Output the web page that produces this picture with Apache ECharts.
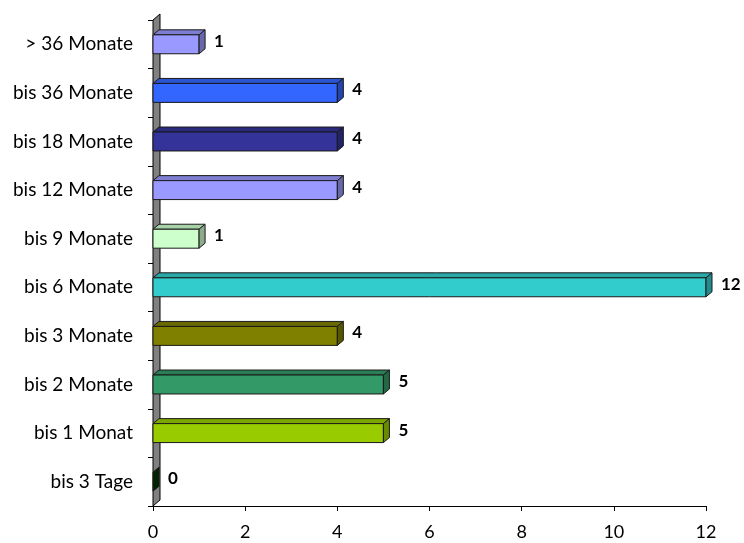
<!DOCTYPE html>
<html>
<head>
<meta charset="utf-8">
<script src="https://cdn.jsdelivr.net/npm/echarts@6/dist/echarts.min.js"></script>
<style>
  html, body { margin: 0; padding: 0; background: #fff; }
  #chart { width: 744px; height: 543px; }
</style>
</head>
<body>
<div id="chart"></div>
<script>
// Duration categories, listed from top to bottom
const categories = [
  '> 36 Monate', 'bis 36 Monate', 'bis 18 Monate', 'bis 12 Monate', 'bis 9 Monate',
  'bis 6 Monate', 'bis 3 Monate', 'bis 2 Monate', 'bis 1 Monat', 'bis 3 Tage'
];
const counts = [1, 4, 4, 4, 1, 12, 4, 5, 5, 0];
const barColors = [
  '#9999FF', '#3366FF', '#333399', '#9999FF', '#CCFFCC',
  '#33CCCC', '#808000', '#339966', '#99CC00', '#003300'
];
const xTicks = { min: 0, max: 12, interval: 2 };

const FONT = 'Lato, "Open Sans", sans-serif';
const DEPTH_X = 6, DEPTH_Y = -5;   // pseudo-3D extrusion
const BAR_FRACTION = 0.39;         // front-face height relative to band

function shade(hex, f) {
  const n = parseInt(hex.slice(1), 16);
  const r = Math.round(((n >> 16) & 255) * f);
  const g = Math.round(((n >> 8) & 255) * f);
  const b = Math.round((n & 255) * f);
  return 'rgb(' + r + ',' + g + ',' + b + ')';
}

function renderBox(params, api) {
  const val = api.value(0);
  const idx = api.value(1);
  const color = barColors[idx];
  const p0 = api.coord([0, idx]);
  const p1 = api.coord([val, idx]);
  const band = api.size([0, 1])[1];
  const h = band * BAR_FRACTION;
  const x0 = p0[0], x1 = p1[0], yc = p0[1];
  const yt = yc - h / 2, yb = yc + h / 2;
  const edge = { stroke: '#1a1a1a', lineWidth: 1 };
  const children = [];
  if (x1 > x0) {
    children.push({
      type: 'polygon',
      shape: { points: [[x0, yt], [x1, yt], [x1 + DEPTH_X, yt + DEPTH_Y], [x0 + DEPTH_X, yt + DEPTH_Y]] },
      style: Object.assign({ fill: shade(color, 0.82) }, edge)
    });
    children.push({
      type: 'rect',
      shape: { x: x0, y: yt, width: x1 - x0, height: h },
      style: Object.assign({ fill: color }, edge)
    });
  }
  children.push({
    type: 'polygon',
    shape: { points: [[x1, yt], [x1 + DEPTH_X, yt + DEPTH_Y], [x1 + DEPTH_X, yb + DEPTH_Y], [x1, yb]] },
    style: Object.assign({ fill: shade(color, 0.68) }, edge)
  });
  children.push({
    type: 'text',
    style: {
      x: x1 + DEPTH_X + 9, y: yc - 3,
      text: String(val),
      fill: '#000',
      fontSize: 17, fontWeight: 'bold', fontFamily: FONT,
      verticalAlign: 'middle', align: 'left'
    }
  });
  return { type: 'group', children: children };
}

function renderWall(params, api) {
  const band = api.size([0, 1])[1];
  const first = api.coord([0, 0]);
  const last = api.coord([0, categories.length - 1]);
  const top = Math.min(first[1], last[1]) - band / 2;
  const bottom = Math.max(first[1], last[1]) + band / 2;
  const x0 = first[0];
  return {
    type: 'polygon',
    shape: { points: [[x0, top], [x0 + DEPTH_X + 1, top + DEPTH_Y - 1], [x0 + DEPTH_X + 1, bottom + DEPTH_Y - 1], [x0, bottom]] },
    style: { fill: '#808080', stroke: '#000', lineWidth: 1 }
  };
}

const chart = echarts.init(document.getElementById('chart'));
chart.setOption({
  animation: false,
  grid: { left: 153, right: 38, top: 20, bottom: 37, containLabel: false },
  xAxis: {
    type: 'value',
    min: xTicks.min, max: xTicks.max, interval: xTicks.interval,
    axisLine: { show: true, lineStyle: { color: '#000', width: 1 } },
    axisTick: { show: true, length: 5, lineStyle: { color: '#000' } },
    axisLabel: { color: '#000', fontSize: 18, fontFamily: FONT, margin: 17 },
    splitLine: { show: false }
  },
  yAxis: {
    type: 'category',
    data: categories,
    inverse: true,
    axisLine: { show: true, lineStyle: { color: '#000', width: 1 } },
    axisTick: { show: true, length: 5, lineStyle: { color: '#000' } },
    axisLabel: { color: '#000', fontSize: 19, fontFamily: FONT, margin: 20 },
    splitLine: { show: false }
  },
  series: [
    {
      type: 'custom',
      renderItem: renderWall,
      data: [[0, 0]],
      encode: { x: 0, y: 1 },
      z: 1,
      silent: true
    },
    {
      type: 'custom',
      renderItem: renderBox,
      data: counts.map((v, i) => [v, i]),
      encode: { x: 0, y: 1 },
      z: 2
    }
  ]
});
</script>
</body>
</html>
